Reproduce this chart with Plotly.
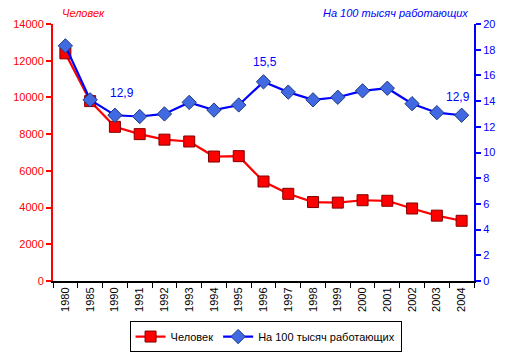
import plotly.graph_objects as go

years = ["1980", "1985", "1990", "1991", "1992", "1993", "1994", "1995", "1996",
         "1997", "1998", "1999", "2000", "2001", "2002", "2003", "2004"]
people = [12400, 9800, 8400, 8000, 7700, 7600, 6780, 6800, 5420,
          4750, 4300, 4270, 4400, 4370, 3950, 3560, 3280]
per100k = [18.3, 14.1, 12.9, 12.8, 13.0, 13.9, 13.3, 13.7, 15.5,
           14.7, 14.1, 14.3, 14.8, 15.0, 13.8, 13.1, 12.9]
label_years = ["1990", "1996", "2004"]
label_texts = ["12,9", "15,5", "12,9"]

FONT = "Liberation Sans, Arial, sans-serif"

fig = go.Figure()
fig.add_trace(go.Scatter(
    x=years, y=people, name="Человек", mode="lines+markers",
    line=dict(color="#FF0000", width=2.2),
    marker=dict(symbol="square", size=11, color="#FF0000",
                line=dict(color="#800000", width=1)),
))
fig.add_trace(go.Scatter(
    x=years, y=per100k, name="На 100 тысяч работающих", mode="lines+markers",
    yaxis="y2",
    line=dict(color="#0000FF", width=2.2),
    marker=dict(symbol="diamond", size=11, color="#4169E1",
                line=dict(color="#1F3A80", width=1)),
))

shifts = {"1990": (7, 22), "1996": (1, 20), "2004": (-4, 18)}
for yr, txt in zip(label_years, label_texts):
    i = years.index(yr)
    v = per100k[i]
    dx, dy = shifts[yr]
    fig.add_annotation(x=i, y=v, xref="x", yref="y2", text=txt, showarrow=False,
                       xshift=dx, yshift=dy, font=dict(color="#0000FF", size=12, family=FONT))

fig.add_annotation(x=0, y=1, xref="paper", yref="paper", xanchor="left", yanchor="bottom",
                   text="<i>Человек</i>", showarrow=False, xshift=7, yshift=3,
                   font=dict(color="#FF0000", size=11, family=FONT))
fig.add_annotation(x=1, y=1, xref="paper", yref="paper", xanchor="right", yanchor="bottom",
                   text="<i>На 100 тысяч работающих</i>", showarrow=False, xshift=-4, yshift=3,
                   font=dict(color="#0000FF", size=11, family=FONT))

fig.update_layout(
    width=505, height=349,
    margin=dict(l=45, r=39, t=16, b=76),
    paper_bgcolor="white", plot_bgcolor="white",
    font=dict(family=FONT, size=11),
    showlegend=True,
    legend=dict(orientation="h", xref="container", yref="container",
                x=0.51, xanchor="center", y=0.103, yanchor="top",
                bordercolor="black", borderwidth=1, font=dict(color="black", size=11),
                itemwidth=30, tracegroupgap=0),
    xaxis=dict(type="category", tickson="boundaries", tickangle=-90, automargin=False,
               showline=True, linecolor="black", linewidth=2,
               ticks="outside", ticklen=5, tickcolor="black", tickwidth=1,
               tickfont=dict(color="black", size=11), showgrid=False,
               range=[-0.5, 16.5]),
    yaxis=dict(range=[0, 14000], dtick=2000, tickformat="d", automargin=False,
               showline=True, linecolor="#FF0000", linewidth=2,
               ticks="outside", ticklen=5, tickcolor="#FF0000", tickwidth=2,
               tickfont=dict(color="#FF0000", size=11), showgrid=False, zeroline=False),
    yaxis2=dict(range=[0, 20], dtick=2, overlaying="y", side="right", automargin=False,
                showline=True, linecolor="#0000FF", linewidth=2,
                ticks="outside", ticklen=5, tickcolor="#0000FF", tickwidth=2,
                tickfont=dict(color="#0000FF", size=11), showgrid=False, zeroline=False),
)

fig.write_html("out.html")
